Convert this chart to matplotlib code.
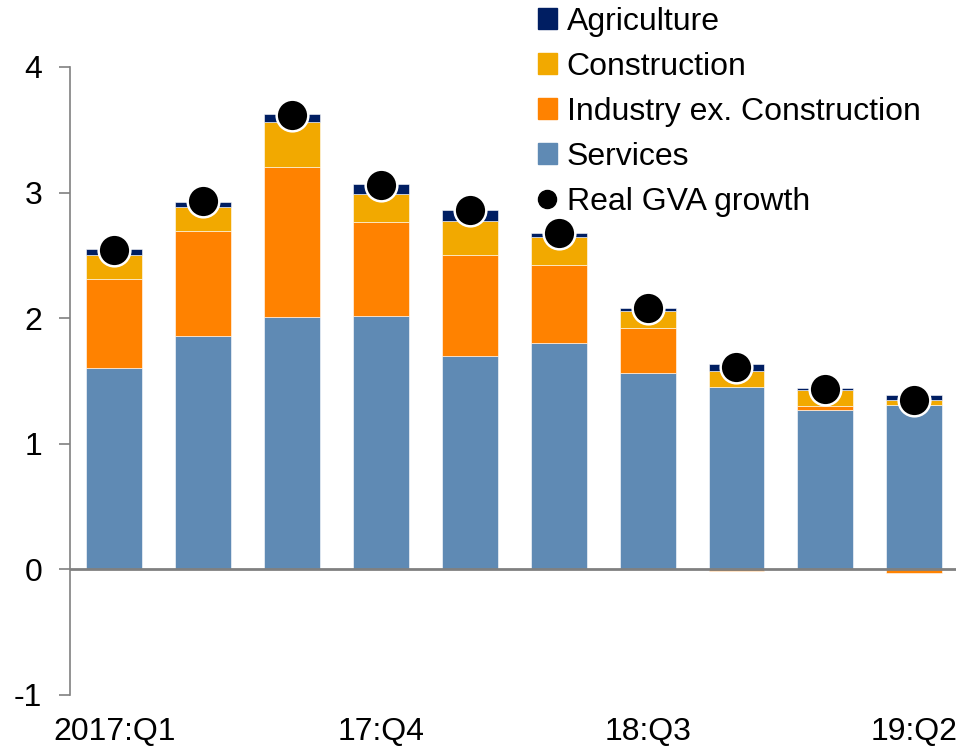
import matplotlib.pyplot as plt
from matplotlib.patches import Patch
from matplotlib.lines import Line2D
import numpy as np

plt.rcParams['font.family'] = ['Liberation Sans', 'DejaVu Sans']

# Data (percentage points)
quarters = ['2017:Q1', '17:Q2', '17:Q3', '17:Q4', '18:Q1', '18:Q2',
            '18:Q3', '18:Q4', '19:Q1', '19:Q2']
services = [1.60, 1.86, 2.01, 2.02, 1.70, 1.80, 1.56, 1.45, 1.27, 1.31]
industry = [0.71, 0.835, 1.19, 0.745, 0.805, 0.625, 0.36, -0.01, 0.03, -0.03]
construction = [0.19, 0.19, 0.36, 0.22, 0.265, 0.225, 0.14, 0.13, 0.13, 0.04]
agriculture = [0.048, 0.042, 0.067, 0.08, 0.088, 0.027, 0.024, 0.053, 0.018, 0.035]
gva_growth = [2.54, 2.93, 3.62, 3.06, 2.86, 2.68, 2.08, 1.61, 1.44, 1.35]
tick_pos = [0, 3, 6, 9]

series = [
    ('Services', services, '#5F8AB4'),
    ('Industry ex. Construction', industry, '#FF8200'),
    ('Construction', construction, '#F2A900'),
    ('Agriculture', agriculture, '#001E62'),
]

fig = plt.figure(figsize=(9.56, 7.49), dpi=100)
ax = fig.add_axes([70 / 956, 1 - 695 / 749, 1 - 70 / 956, (695 - 67) / 749])

x = np.arange(len(quarters))
pos_bottom = np.zeros(len(x))
neg_bottom = np.zeros(len(x))
for name, vals, col in series:
    vals = np.array(vals)
    bottom = np.where(vals >= 0, pos_bottom, neg_bottom)
    ax.bar(x, vals, width=0.63, bottom=bottom, color=col,
           edgecolor='white', linewidth=0.4, zorder=2)
    pos_bottom += np.where(vals >= 0, vals, 0)
    neg_bottom += np.where(vals < 0, vals, 0)

ax.scatter(x, gva_growth, s=520, color='black', edgecolor='white',
           linewidth=1.8, zorder=4)

ax.axhline(0, color='#808080', linewidth=2, zorder=3)

ax.set_xlim(-0.5, 9.47)
ax.set_ylim(-1, 4)
ax.set_yticks([-1, 0, 1, 2, 3, 4])
ax.set_yticklabels(['-1', '0', '1', '2', '3', '4'])
ax.set_xticks(tick_pos)
ax.set_xticklabels([quarters[i] for i in tick_pos])
ax.tick_params(axis='y', labelsize=23, length=8, width=1.2,
               color='#808080', pad=12)
ax.tick_params(axis='x', labelsize=23, length=0, pad=16)
for s in ['top', 'right', 'bottom']:
    ax.spines[s].set_visible(False)
ax.spines['left'].set_color('#808080')
ax.spines['left'].set_linewidth(1.2)

handles = [
    Patch(color='#001E62', label='Agriculture'),
    Patch(color='#F2A900', label='Construction'),
    Patch(color='#FF8200', label='Industry ex. Construction'),
    Patch(color='#5F8AB4', label='Services'),
    Line2D([], [], marker='o', linestyle='none', color='black',
           markersize=13, label='Real GVA growth'),
]
fig.legend(handles=handles, loc='upper left', bbox_to_anchor=(525 / 956, 1.008),
           frameon=False, fontsize=23, handlelength=0.6, handleheight=0.6,
           handletextpad=0.3, labelspacing=0.47, borderaxespad=0)

fig.savefig('out.png', dpi=100)
